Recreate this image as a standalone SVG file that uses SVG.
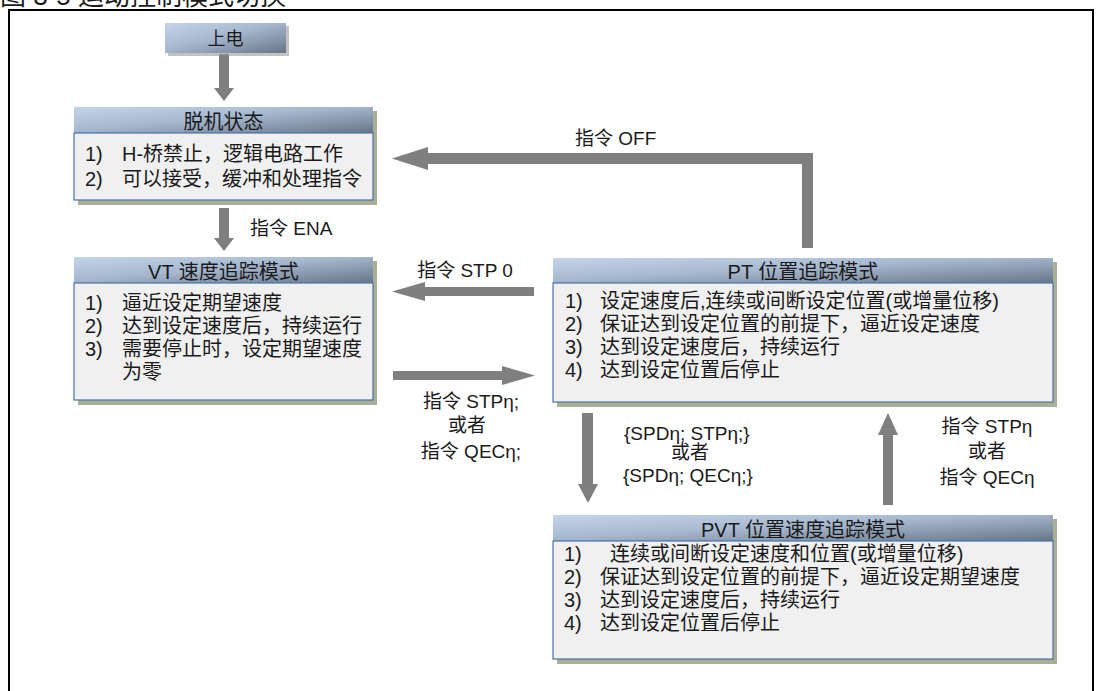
<svg xmlns="http://www.w3.org/2000/svg" width="1096" height="691" viewBox="0 0 1096 691">
  <defs>
    <linearGradient id="hdr" x1="0" y1="0" x2="1" y2="1">
      <stop offset="0" stop-color="#c4d5ea"/>
      <stop offset="0.45" stop-color="#a6b8cf"/>
      <stop offset="1" stop-color="#687587"/>
    </linearGradient>
  </defs>
  <style>
    text { font-family: "Liberation Sans", "Noto Sans CJK SC", sans-serif; fill: #1a1a1a; }
    .t { font-size: 20px; }
    .h { font-size: 20px; text-anchor: middle; }
    .lbl { font-size: 19px; }
    .mid { text-anchor: middle; }
    .head { fill: url(#hdr); }
    .body { fill: #f0f0f0; stroke: #4a72a8; stroke-width: 1.2; }
    .shadow { fill: #a7b097; }
    .softshadow { fill: #8f8f8f; opacity: 0.55; }
    .arrow { fill: #7f7f7f; }
    .frame { fill: none; stroke: #000; stroke-width: 2; }
  </style>

  <rect width="1096" height="691" fill="#fff"/>

  <!-- figure caption, clipped by the top edge -->
  <text x="0" y="5" style="font-size:26px">图 3-5 运动控制模式切换</text>
  <rect class="frame" x="9" y="10" width="1084" height="692"/>

  <!-- connectors -->
  <g id="connectors">
    <!-- power on to offline -->
    <polygon class="arrow" points="219,54 229,54 229,88 234,88 224,101 214,88 219,88"/>
    <!-- offline to VT (ENA) -->
    <polygon class="arrow" points="219,208 229,208 229,238 234,238 224,251 214,238 219,238"/>
    <text class="lbl" x="250" y="235">指令 ENA</text>
    <!-- PT back to offline (OFF) -->
    <polygon class="arrow" points="813,248 813,153 428,153 428,147 392,158.5 428,170 428,164 802,164 802,248"/>
    <text class="lbl" x="575" y="145">指令 OFF</text>
    <!-- PT to VT (STP 0) -->
    <polygon class="arrow" points="534,287 534,296 425,296 425,301 392,291.5 425,282 425,287"/>
    <text class="lbl mid" x="465" y="277">指令 STP 0</text>
    <!-- VT to PT -->
    <polygon class="arrow" points="393,371 502,371 502,366 535,375.5 502,385 502,380 393,380"/>
    <text class="lbl mid" x="471" y="408">指令 STPη;</text>
    <text class="lbl mid" x="467" y="432">或者</text>
    <text class="lbl mid" x="471" y="458">指令 QECη;</text>
    <!-- PT to PVT -->
    <polygon class="arrow" points="582,413 593,413 593,484 598,484 588,503 578,484 582,484"/>
    <text class="lbl" x="624" y="440">{SPDη; STPη;}</text>
    <text class="lbl mid" x="690" y="459">或者</text>
    <text class="lbl" x="623" y="482">{SPDη; QECη;}</text>
    <!-- PVT to PT -->
    <polygon class="arrow" points="883,505 893,505 893,435 898,435 888,413 878,435 883,435"/>
    <text class="lbl mid" x="987" y="433">指令 STPη</text>
    <text class="lbl mid" x="987" y="458">或者</text>
    <text class="lbl mid" x="987" y="484">指令 QECη</text>
  </g>

  <!-- power on -->
  <g id="power-on">
    <rect class="softshadow" x="168" y="26" width="121" height="30"/>
    <rect class="head" x="165" y="23" width="121" height="30"/>
    <text class="mid" x="225.5" y="45" style="font-size:18px">上电</text>
  </g>

  <!-- offline state -->
  <g id="offline">
    <rect class="shadow" x="78" y="111" width="299" height="94"/>
    <rect class="head" x="74" y="107" width="299" height="26"/>
    <rect class="body" x="74" y="133" width="299" height="67"/>
    <text class="h" x="223.5" y="129">脱机状态</text>
    <text class="t" x="85" y="161">1)</text>
    <text class="t" x="122" y="161">H-桥禁止，逻辑电路工作</text>
    <text class="t" x="85" y="186">2)</text>
    <text class="t" x="122" y="186">可以接受，缓冲和处理指令</text>
  </g>

  <!-- VT velocity tracking -->
  <g id="vt-mode">
    <rect class="shadow" x="78" y="261" width="299" height="144"/>
    <rect class="head" x="74" y="257" width="299" height="26"/>
    <rect class="body" x="74" y="283" width="299" height="117"/>
    <text class="h" x="223.5" y="279">VT 速度追踪模式</text>
    <text class="t" x="85" y="310">1)</text>
    <text class="t" x="122" y="310">逼近设定期望速度</text>
    <text class="t" x="85" y="333">2)</text>
    <text class="t" x="122" y="333">达到设定速度后，持续运行</text>
    <text class="t" x="85" y="356">3)</text>
    <text class="t" x="122" y="356">需要停止时，设定期望速度</text>
    <text class="t" x="122" y="379">为零</text>
  </g>

  <!-- PT position tracking -->
  <g id="pt-mode">
    <rect class="shadow" x="557" y="262" width="500" height="145"/>
    <rect class="head" x="553" y="258" width="500" height="25"/>
    <rect class="body" x="553" y="283" width="500" height="119"/>
    <text class="h" x="803" y="279">PT 位置追踪模式</text>
    <text class="t" x="565" y="308">1)</text>
    <text class="t" x="600" y="308">设定速度后,连续或间断设定位置(或增量位移)</text>
    <text class="t" x="565" y="331">2)</text>
    <text class="t" x="600" y="331">保证达到设定位置的前提下，逼近设定速度</text>
    <text class="t" x="565" y="354">3)</text>
    <text class="t" x="600" y="354">达到设定速度后，持续运行</text>
    <text class="t" x="565" y="377">4)</text>
    <text class="t" x="600" y="377">达到设定位置后停止</text>
  </g>

  <!-- PVT position-velocity tracking -->
  <g id="pvt-mode">
    <rect class="shadow" x="557" y="519" width="500" height="145"/>
    <rect class="head" x="553" y="515" width="500" height="26"/>
    <rect class="body" x="553" y="541" width="500" height="118"/>
    <text class="h" x="803" y="537">PVT 位置速度追踪模式</text>
    <text class="t" x="564" y="561">1)</text>
    <text class="t" x="610" y="561">连续或间断设定速度和位置(或增量位移)</text>
    <text class="t" x="564" y="584">2)</text>
    <text class="t" x="600" y="584">保证达到设定位置的前提下，逼近设定期望速度</text>
    <text class="t" x="564" y="607">3)</text>
    <text class="t" x="600" y="607">达到设定速度后，持续运行</text>
    <text class="t" x="564" y="630">4)</text>
    <text class="t" x="600" y="630">达到设定位置后停止</text>
  </g>
</svg>
